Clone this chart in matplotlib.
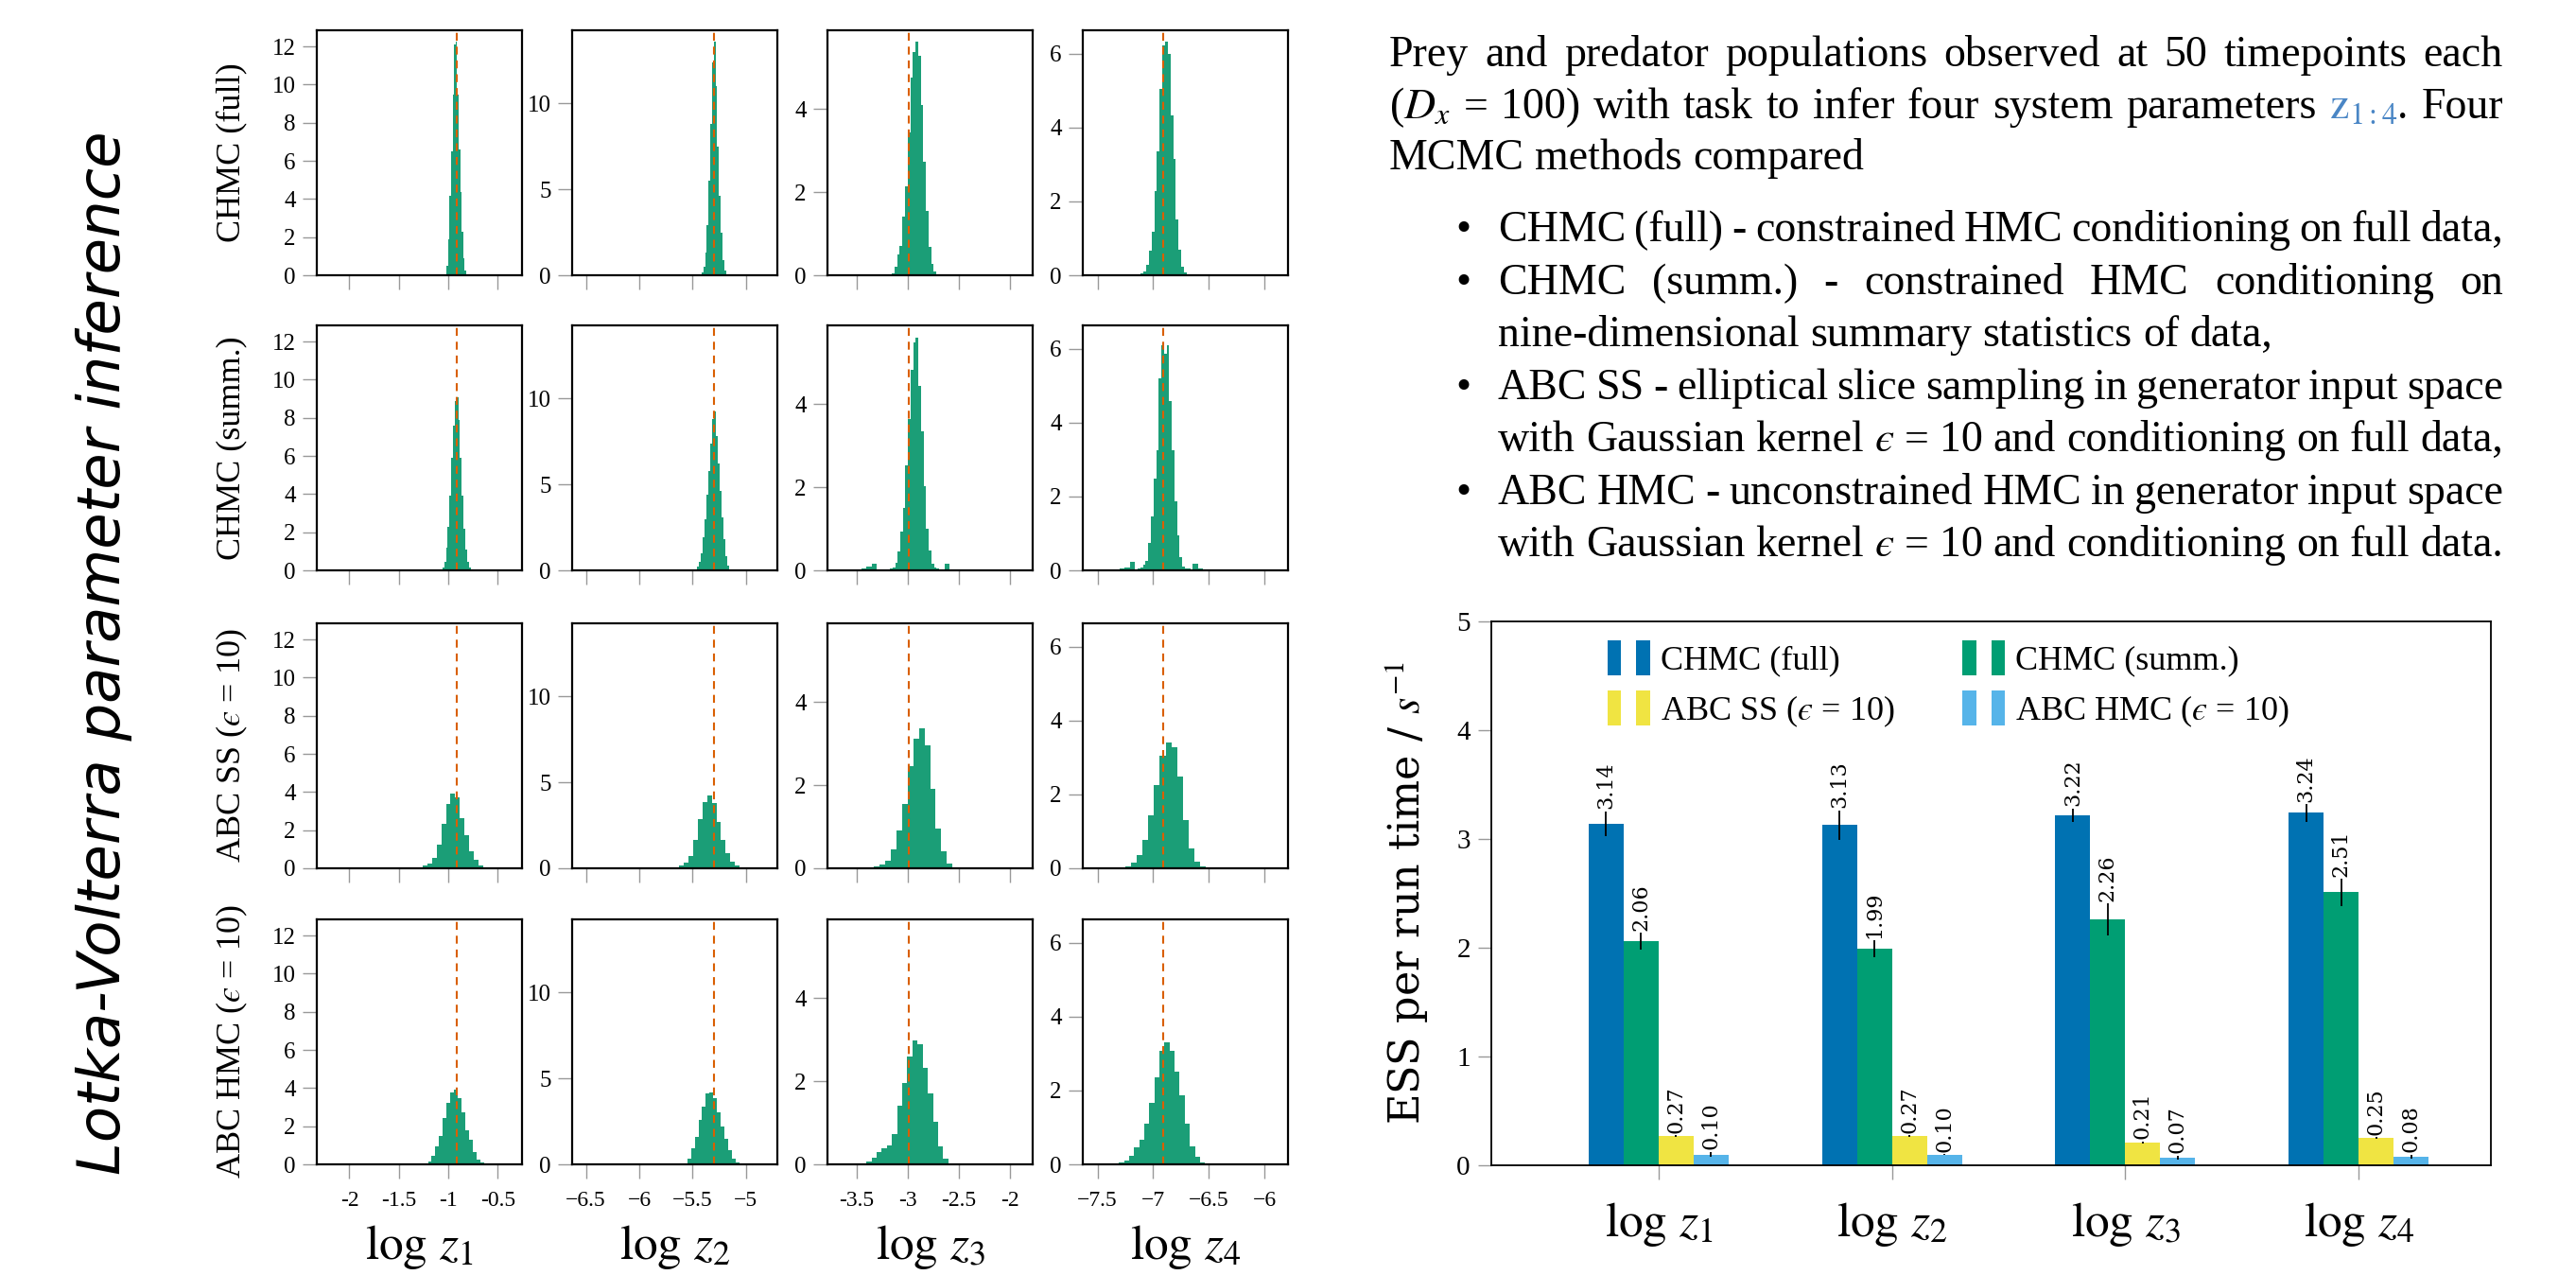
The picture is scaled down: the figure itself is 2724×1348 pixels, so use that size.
import numpy as np
import matplotlib
matplotlib.use("Agg")
import matplotlib.pyplot as plt
from matplotlib import font_manager
from matplotlib.patches import Patch, Rectangle
from matplotlib.legend_handler import HandlerBase

# ---- histogram data (density per bin) ----
EPS = "\u03f5"
methods = ["CHMC (full)", "CHMC (summ.)", f"ABC SS (${EPS}$ = 10)", f"ABC HMC (${EPS}$ = 10)"]
true_log_z = [-0.916, -5.298, -2.996, -6.908]

# left edge and bin width of each histogram, per method, for z1..z4
full_start = [-1.0323, -5.4142, -3.208, -7.160]
full_width = [0.01516, 0.01627, 0.02562, 0.02422]
summ_start = [-1.0774, -5.4793, -3.559, -7.397]
summ_width = [0.01774, 0.01775, 0.02547, 0.02351]
ss_start = [-1.4505, -5.8018, -3.4954, -7.456]
ss_width = [0.04728, 0.04379, 0.0548, 0.05156]
hmc_start = [-1.3195, -5.6893, -3.5573, -7.3966]
hmc_width = [0.0377, 0.0349, 0.05015, 0.04533]

full_z1 = [0.05, 0.5, 1.9, 4.15, 6.5, 9.5, 12.1, 12.24, 9.5, 6.6, 4.35, 2.3, 0.9, 0.24, 0.07]
full_z2 = [0.15, 0.5, 1.3, 2.9, 5.5, 8.8, 12.4, 13.58, 11.0, 7.5, 4.6, 2.5, 0.9, 0.25, 0.07]
full_z3 = [0.01, 0.02, 0.04, 0.21, 0.49, 0.71, 1.42, 2.15, 3.44, 4.75, 5.37, 5.63, 5.29, 4.10,
           2.73, 1.55, 0.69, 0.28, 0.10, 0.03]
full_z4 = [0.01, 0.02, 0.05, 0.1, 0.29, 0.67, 1.18, 2.29, 3.37, 5.06, 6.22, 6.32, 6.0, 4.32,
           3.16, 1.5, 0.7, 0.24, 0.08, 0.03]

summ_z1 = [0.05, 0.15, 0.45, 1.2, 2.3, 3.9, 5.9, 7.6, 8.9, 9.1, 7.9, 5.9, 3.9, 2.2, 1.1, 0.45, 0.15, 0.05]
summ_z2 = [0.08, 0.2, 0.5, 1.0, 1.9, 3.0, 4.4, 5.8, 7.4, 8.8, 9.27, 7.8, 6.2, 4.6, 3.1, 1.8, 0.8, 0.3, 0.08]
summ_z3 = [0.02, 0.02, 0.03, 0.03, 0.04, 0.04, 0.08, 0.09, 0.16, 0.16, 0.0, 0.0, 0.01, 0.03, 0.03,
           0.05, 0.06, 0.19, 0.45, 0.94, 1.50, 2.53, 3.64, 4.82, 5.49, 5.61, 4.45, 3.34, 2.03, 1.00,
           0.47, 0.15, 0.06, 0.05, 0.0, 0.03, 0.15, 0.15, 0.03, 0.02]
summ_z4 = [0.02, 0.02, 0.02, 0.02, 0.05, 0.05, 0.08, 0.08, 0.22, 0.22, 0.01, 0.05, 0.08, 0.15, 0.25,
           0.75, 1.45, 2.49, 3.26, 5.21, 6.1, 5.86, 6.09, 4.6, 3.26, 1.86, 0.96, 0.37, 0.1, 0.06,
           0.04, 0.02, 0.19, 0.19, 0.06, 0.06, 0.01, 0.01]

ss_z1 = [0.01, 0.01, 0.02, 0.06, 0.13, 0.26, 0.54, 1.23, 2.32, 3.36, 3.93, 3.72, 2.65, 1.72, 0.9,
         0.45, 0.17, 0.07, 0.03, 0.02]
ss_z2 = [0.01, 0.01, 0.02, 0.06, 0.15, 0.35, 0.7, 1.64, 2.84, 3.87, 4.22, 3.81, 2.69, 1.64, 0.87,
         0.41, 0.15, 0.06, 0.03, 0.01]
ss_z3 = [0.01, 0.02, 0.02, 0.04, 0.08, 0.19, 0.46, 0.92, 1.55, 2.47, 3.13, 3.38, 2.96, 1.92, 0.95,
         0.42, 0.12, 0.02, 0.02, 0.01]
ss_z4 = [0.01, 0.01, 0.01, 0.02, 0.06, 0.15, 0.35, 0.76, 1.44, 2.25, 3.05, 3.4, 3.28, 2.48, 1.3,
         0.55, 0.19, 0.05, 0.02, 0.01]

hmc_z1 = [0.01, 0.02, 0.04, 0.17, 0.47, 0.96, 1.48, 2.45, 3.24, 3.76, 3.9, 3.48, 2.75, 1.8, 1.27,
          0.66, 0.24, 0.09, 0.04, 0.01]
hmc_z2 = [0.01, 0.02, 0.03, 0.08, 0.33, 0.91, 1.58, 2.57, 3.38, 4.13, 4.17, 3.86, 3.03, 2.2, 1.47,
          0.85, 0.35, 0.12, 0.04, 0.01]
hmc_z3 = [0.01, 0.02, 0.03, 0.07, 0.15, 0.29, 0.38, 0.46, 0.74, 1.41, 1.96, 2.6, 2.99, 2.89, 2.33,
          1.71, 1.02, 0.43, 0.14, 0.03]
hmc_z4 = [0.01, 0.02, 0.04, 0.09, 0.22, 0.46, 0.67, 1.1, 1.67, 2.36, 3.08, 3.3, 3.08, 2.51, 1.88,
          1.1, 0.49, 0.2, 0.05, 0.01]

hist_ticks_x = [[-2, -1.5, -1, -0.5], [-6.5, -6, -5.5, -5], [-3.5, -3, -2.5, -2], [-7.5, -7, -6.5, -6]]
hist_ticklabels_x = [["-2", "-1.5", "-1", "-0.5"], ["\u22126.5", "\u22126", "\u22125.5", "\u22125"],
                     ["-3.5", "-3", "-2.5", "-2"], ["\u22127.5", "\u22127", "\u22126.5", "\u22126"]]
hist_ticks_y = [[0, 2, 4, 6, 8, 10, 12], [0, 5, 10], [0, 2, 4], [0, 2, 4, 6]]

# ---- bar chart data ----
params = [r"$\log\,z_1$", r"$\log\,z_2$", r"$\log\,z_3$", r"$\log\,z_4$"]
ess_full = [3.14, 3.13, 3.22, 3.24]
ess_summ = [2.06, 1.99, 2.26, 2.51]
ess_abc_ss = [0.27, 0.27, 0.21, 0.25]
ess_abc_hmc = [0.10, 0.10, 0.07, 0.08]
err_full = [0.115, 0.135, 0.06, 0.08]
err_summ = [0.077, 0.08, 0.15, 0.125]
err_abc_ss = [0.01, 0.01, 0.01, 0.01]
err_abc_hmc = [0.025, 0.005, 0.02, 0.02]

GREEN = "#1b9e77"
ORANGE = "#d95f02"
BAR_COLORS = ["#0072b2", "#009e73", "#f0e442", "#56b4e9"]
LINK_BLUE = "#4a86c5"
TICK_GREY = "#999999"

W, H, DPI = 2724, 1348, 100


def has_font(name):
    try:
        font_manager.findfont(name, fallback_to_default=False)
        return True
    except ValueError:
        return False


SERIF = ["Liberation Serif", "DejaVu Serif"]
plt.rcParams["font.family"] = SERIF
plt.rcParams["mathtext.fontset"] = "stix"


def px_box(left, top, width, height):
    return [left / W, 1 - (top + height) / H, width / W, height / H]


class TwoBarHandler(HandlerBase):
    # legend key drawn as two small bars
    def create_artists(self, legend, orig_handle, xdescent, ydescent, width, height, fontsize, trans):
        c = orig_handle.get_facecolor()
        w = width * 0.32
        r1 = Rectangle((-xdescent, -ydescent), w, height, facecolor=c, lw=0, transform=trans)
        r2 = Rectangle((-xdescent + width - w, -ydescent), w, height, facecolor=c, lw=0, transform=trans)
        return [r1, r2]


fig = plt.figure(figsize=(W / DPI, H / DPI), dpi=DPI)

# ---- histogram grid ----
heights = [[full_z1, full_z2, full_z3, full_z4],
           [summ_z1, summ_z2, summ_z3, summ_z4],
           [ss_z1, ss_z2, ss_z3, ss_z4],
           [hmc_z1, hmc_z2, hmc_z3, hmc_z4]]
starts = [full_start, summ_start, ss_start, hmc_start]
widths = [full_width, summ_width, ss_width, hmc_width]
xlims = [(-2.329, -0.256), (-6.630, -4.704), (-3.789, -1.777), (-7.632, -5.790)]
ylims = [12.85, 14.26, 5.9, 6.64]

col_left = [335, 605, 875, 1145]
row_top = [32, 344, 659, 972]
AW, AH = 217, 259

for r in range(4):
    for c in range(4):
        ax = fig.add_axes(px_box(col_left[c], row_top[r], AW, AH))
        h = heights[r][c]
        edges = starts[r][c] + widths[r][c] * np.arange(len(h) + 1)
        ax.stairs(h, edges, fill=True, color=GREEN, lw=0)
        ax.axvline(true_log_z[c], color=ORANGE, ls=(0, (4, 3)), lw=1.5)
        ax.set_xlim(*xlims[c])
        ax.set_ylim(0, ylims[c])
        ax.set_xticks(hist_ticks_x[c])
        ax.set_yticks(hist_ticks_y[c])
        ax.set_yticklabels([str(v) for v in hist_ticks_y[c]])
        if r == 3:
            ax.set_xticklabels(hist_ticklabels_x[c])
        else:
            ax.set_xticklabels([])
        ax.tick_params(direction="out", length=11, width=1, color=TICK_GREY, labelsize=18, pad=5)
        ax.tick_params(axis="x", labelsize=17, pad=9)
        for s in ax.spines.values():
            s.set_linewidth(1.6)
        if r == 3:
            fig.text((col_left[c] + AW / 2) / W, 1 - 1319 / H, params[c],
                     ha="center", va="center", fontsize=37)
    fig.text(245 / W, 1 - (row_top[r] + AH / 2) / H, methods[r], rotation=90,
             ha="center", va="center", fontsize=26)

if has_font("Liberation Sans Narrow"):
    fig.text(113 / W, 1 - 687 / H, "Lotka-Volterra parameter inference", rotation=90,
             ha="center", va="center", fontsize=56, style="italic", family="Liberation Sans Narrow")
else:
    fig.text(110 / W, 1 - 690 / H, "Lotka-Volterra parameter inference", rotation=90,
             ha="center", va="center", fontsize=45, style="italic", family="DejaVu Sans")

# ---- ESS bar chart ----
ax = fig.add_axes(px_box(1577, 657, 1057, 575))
x = np.arange(len(params))
bw = 0.15
series = [(ess_full, err_full), (ess_summ, err_summ), (ess_abc_ss, err_abc_ss), (ess_abc_hmc, err_abc_hmc)]
for i, (vals, errs) in enumerate(series):
    xs = x + (i - 1.5) * bw
    ax.bar(xs, vals, bw, color=BAR_COLORS[i], yerr=errs,
           error_kw=dict(ecolor="black", elinewidth=1.3, capsize=0))
    for xi, v, e in zip(xs, vals, errs):
        ax.text(xi, v + e + 0.02, f"{v:.2f}", rotation=90, ha="center", va="bottom",
                fontsize=16, family="DejaVu Serif")
ax.set_xlim(-0.717, 3.567)
ax.set_ylim(0, 5)
ax.set_xticks(x)
ax.set_xticklabels(params, fontsize=37)
ax.set_yticks(range(6))
ax.tick_params(direction="out", color=TICK_GREY, width=1)
ax.tick_params(axis="y", length=10, labelsize=21, pad=6)
ax.tick_params(axis="x", length=11, pad=16)
for s in ax.spines.values():
    s.set_linewidth(1.3)

proxies = [Patch(facecolor=BAR_COLORS[k]) for k in (0, 2, 1, 3)]
labels = [methods[k] for k in (0, 2, 1, 3)]
ax.legend(proxies, labels, handler_map={Patch: TwoBarHandler()}, ncol=2, frameon=False,
          loc="upper left", bbox_to_anchor=(0.116, 0.965), borderpad=0, borderaxespad=0,
          fontsize=26, handlelength=1.25, handleheight=1.2, handletextpad=0.3,
          columnspacing=2.0, labelspacing=0.4)

fig.text(1487 / W, 1 - 944 / H, r"ESS per run time / $s^{-1}$", rotation=90,
         ha="center", va="center", fontsize=32, family="DejaVu Serif")

# ---- justified description text ----
renderer = fig.canvas.get_renderer()
TEXT_SIZE = 33


def place_line(words, x0, x1, baseline, justify=True):
    # words: list of words; a word is a str or a list of (text, colour) pieces
    groups = []
    for w in words:
        pieces = [(w, "black")] if isinstance(w, str) else w
        arts = []
        for txt, col in pieces:
            t = fig.text(0, 1 - baseline / H, txt, fontsize=TEXT_SIZE, color=col,
                         ha="left", va="baseline")
            arts.append((t, t.get_window_extent(renderer).width))
        groups.append(arts)
    wsum = [sum(wd for _, wd in g) for g in groups]
    space = TEXT_SIZE * DPI / 72 * 0.25
    gap = space
    if justify and len(groups) > 1:
        gap = max(((x1 - x0) - sum(wsum)) / (len(groups) - 1), space * 0.4)
    xpos = x0
    for g, wd in zip(groups, wsum):
        xx = xpos
        for t, pw in g:
            t.set_x(xx / W)
            xx += pw
        xpos += wd + gap


TX0, TX1, BX0 = 1469, 2647, 1584
place_line("Prey and predator populations observed at 50 timepoints each".split(), TX0, TX1, 70)
place_line(["($D_x$", "=", "100)", "with", "task", "to", "infer", "four", "system", "parameters",
            [("$\\mathrm{z}_{1{:}4}$", LINK_BLUE), (".", "black")], "Four"], TX0, TX1, 125)
place_line("MCMC methods compared".split(), TX0, TX1, 179, justify=False)

bullet_lines = [
    ("CHMC (full) - constrained HMC conditioning on full data,", 255, True, True),
    ("CHMC (summ.) - constrained HMC conditioning on", 311, True, True),
    ("nine-dimensional summary statistics of data,", 366, False, False),
    ("ABC SS - elliptical slice sampling in generator input space", 422, True, True),
    (f"with Gaussian kernel ${EPS}$ = 10 and conditioning on full data,", 477, False, True),
    ("ABC HMC - unconstrained HMC in generator input space", 533, True, True),
    (f"with Gaussian kernel ${EPS}$ = 10 and conditioning on full data.", 588, False, True),
]
for txt, base, bullet, just in bullet_lines:
    if bullet:
        fig.text(1547 / W, 1 - base / H, "\u2022", fontsize=TEXT_SIZE, ha="center", va="baseline")
    place_line(txt.split(), BX0, TX1, base, justify=just)

fig.savefig("out.png", dpi=DPI)
